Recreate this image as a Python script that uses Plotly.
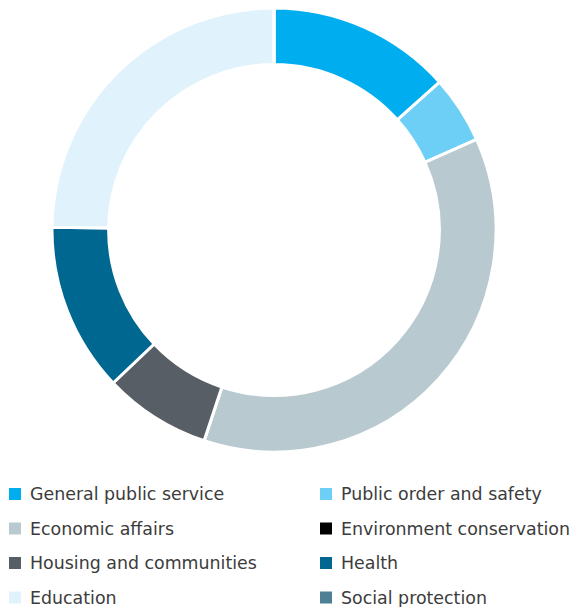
import plotly.graph_objects as go

labels = ["General public service", "Public order and safety", "Economic affairs",
          "Environment conservation", "Housing and communities", "Health",
          "Education", "Social protection"]
values = [13.4, 4.9, 36.8, 0.0, 7.8, 12.3, 24.8, 0.0]
colors = ["#00AEEF", "#6DCFF6", "#B9C9D0", "#000000", "#585E66", "#006890",
          "#E0F2FC", "#4F7F95"]

# the page body has an 8px margin, so the figure is sized to the rest of the window
OFF = 8
W, H = 584 - OFF, 607 - OFF


def px(sx):
    return (sx - OFF) / W


def py(sy):
    return 1 - (sy - OFF) / H


cx, cy, R = 274, 230, 222

fig = go.Figure(go.Pie(
    labels=labels, values=values, sort=False, direction="clockwise", rotation=0,
    hole=0.745, textinfo="none", hoverinfo="label+percent", showlegend=False,
    marker=dict(colors=colors, line=dict(color="white", width=3)),
    domain=dict(x=[px(cx - R), px(cx + R)], y=[py(cy + R), py(cy - R)]),
))

# legend drawn as two columns of squares + labels
col_x = [15, 326]
row_y = [494, 528.5, 563, 597.5]
shapes, annotations = [], []
for i, (lab, col) in enumerate(zip(labels, colors)):
    x0 = col_x[i % 2]
    y0 = row_y[i // 2]
    shapes.append(dict(type="rect", xref="paper", yref="paper",
                       x0=px(x0 - 6), x1=px(x0 + 6),
                       y0=py(y0 + 6), y1=py(y0 - 6),
                       fillcolor=col, line=dict(width=0)))
    annotations.append(dict(text=lab, xref="paper", yref="paper",
                            x=px(x0 + 13), y=py(y0), xanchor="left", yanchor="middle",
                            showarrow=False, font=dict(size=17.4, color="#3c3c3c")))

fig.update_layout(
    width=W, height=H, margin=dict(l=0, r=0, t=0, b=0),
    paper_bgcolor="white", plot_bgcolor="white",
    font=dict(family="DejaVu Sans", size=17.4, color="#3c3c3c"),
    shapes=shapes, annotations=annotations,
)
fig.write_html("out.html")
